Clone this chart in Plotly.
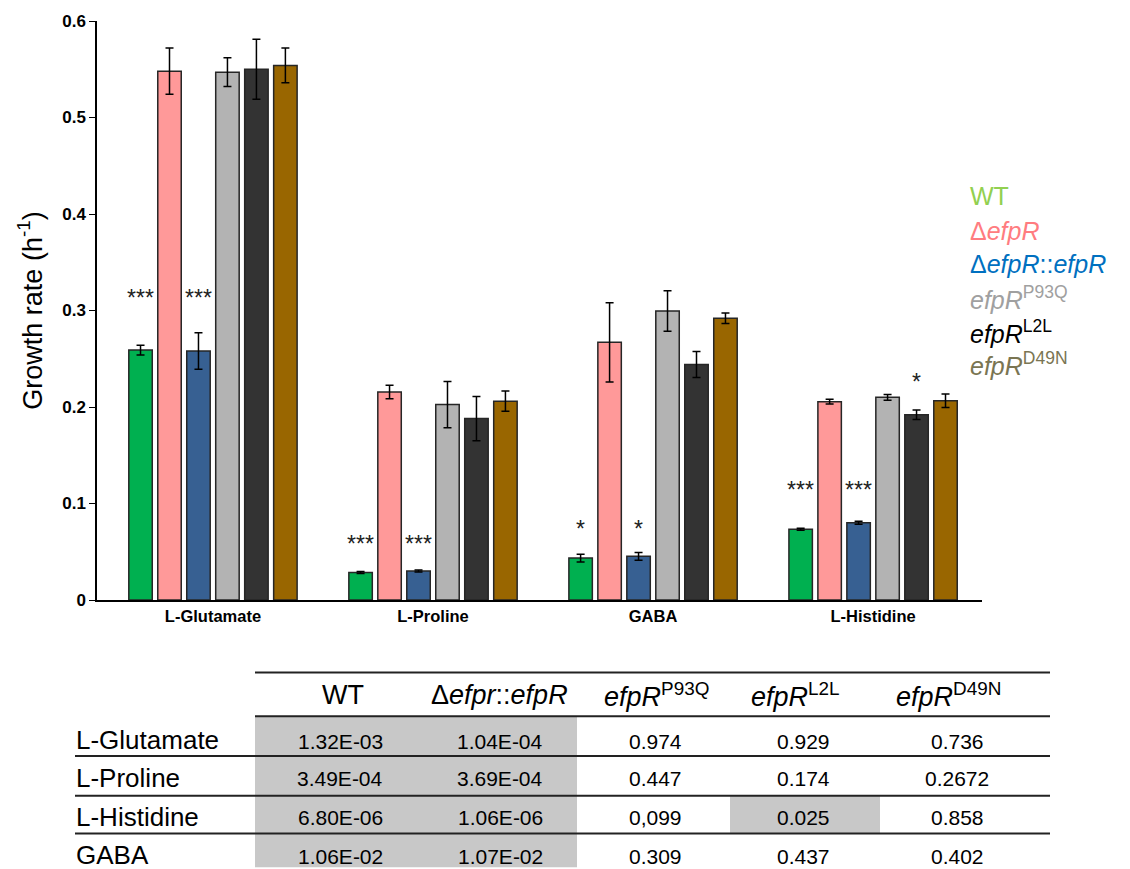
import plotly.graph_objects as go

# ---------------- data ----------------
substrates = ["L-Glutamate", "L-Proline", "GABA", "L-Histidine"]

strains = ["WT", "dEfpR", "dEfpR::efpR", "efpR_P93Q", "efpR_L2L", "efpR_D49N"]

wt_rate = [0.259, 0.0285, 0.0435, 0.0734]
wt_err = [0.005, 0.001, 0.004, 0.001]
del_rate = [0.548, 0.2155, 0.267, 0.2055]
del_err = [0.024, 0.007, 0.041, 0.0025]
comp_rate = [0.258, 0.030, 0.0453, 0.080]
comp_err = [0.019, 0.001, 0.004, 0.0015]
p93q_rate = [0.547, 0.2025, 0.2995, 0.210]
p93q_err = [0.015, 0.024, 0.021, 0.003]
l2l_rate = [0.550, 0.188, 0.244, 0.192]
l2l_err = [0.031, 0.023, 0.0135, 0.005]
d49n_rate = [0.554, 0.206, 0.292, 0.2065]
d49n_err = [0.018, 0.0105, 0.0055, 0.007]

wt_sig = ["***", "***", "*", "***"]
comp_sig = ["***", "***", "*", "***"]
l2l_sig = ["", "", "", "*"]

legend_labels = [
    "WT",
    "Δ<i>efpR</i>",
    "Δ<i>efpR</i>::<i>efpR</i>",
    "<i>efpR</i><sup>P93Q</sup>",
    "<i>efpR</i><sup>L2L</sup>",
    "<i>efpR</i><sup>D49N</sup>",
]

# p-value table
table_header = [
    "WT",
    "Δ<i>efpr</i>::<i>efpR</i>",
    "<i>efpR</i><sup>P93Q</sup>",
    "<i>efpR</i><sup>L2L</sup>",
    "<i>efpR</i><sup>D49N</sup>",
]
table_rows = ["L-Glutamate", "L-Proline", "L-Histidine", "GABA"]
table_values = [
    ["1.32E-03", "1.04E-04", "0.974", "0.929", "0.736"],
    ["3.49E-04", "3.69E-04", "0.447", "0.174", "0.2672"],
    ["6.80E-06", "1.06E-06", "0,099", "0.025", "0.858"],
    ["1.06E-02", "1.07E-02", "0.309", "0.437", "0.402"],
]
table_shaded = [
    [True, True, False, False, False],
    [True, True, False, False, False],
    [True, True, False, True, False],
    [True, True, False, False, False],
]

# ---------------- styling ----------------
bar_colors = ["#00b050", "#ff9999", "#376092", "#b3b3b3", "#333333", "#996600"]
legend_colors = ["#92d050", "#ff7c80", "#0070c0", "#a0a0a0", "#000000", "#7a7552"]
FONT = "Liberation Sans, Arial, sans-serif"

W, H = 1130, 869
L, R, T, B = 97, 982, 17, 600  # plot area in pixels
BARGAP, GROUPGAP = 0.21, 0.19


def px(x, y):
    """pixel position -> paper coordinates"""
    return (x - L) / (R - L), (B - y) / (B - T)


rates = [wt_rate, del_rate, comp_rate, p93q_rate, l2l_rate, d49n_rate]
errs = [wt_err, del_err, comp_err, p93q_err, l2l_err, d49n_err]

fig = go.Figure()
for name, r, e, c in zip(strains, rates, errs, bar_colors):
    fig.add_trace(go.Bar(
        x=substrates, y=r, name=name, showlegend=False,
        marker=dict(color=c, line=dict(color="#262626", width=1.5)),
        error_y=dict(type="data", array=e, color="black", thickness=1.5, width=4),
    ))

# significance stars over WT, complemented and L2L bars
n = len(strains)
slot = (1 - BARGAP) / n
star_pad = [0.036, 0.027, 0.024, 0.032]
annotations = []
for trace_idx, sig in [(0, wt_sig), (2, comp_sig), (4, l2l_sig)]:
    off = (trace_idx - (n - 1) / 2) * slot
    for gi, s in enumerate(sig):
        if not s:
            continue
        if trace_idx in (0, 2):
            top = max(wt_rate[gi] + wt_err[gi], comp_rate[gi] + comp_err[gi])
            y = top + star_pad[gi]
        else:
            y = rates[trace_idx][gi] + errs[trace_idx][gi] + 0.029
        annotations.append(dict(
            x=gi + off, y=y, xref="x", yref="y", text=s, showarrow=False,
            font=dict(family=FONT, size=23, color="#222"), yanchor="middle",
        ))

# legend as coloured text
leg_y = [193, 228, 262, 296, 330, 362]
for lab, col, ly in zip(legend_labels, legend_colors, leg_y):
    xp, yp = px(968, ly)
    annotations.append(dict(
        x=xp, y=yp, xref="paper", yref="paper", text=lab, showarrow=False,
        xanchor="left", yanchor="middle", font=dict(family=FONT, size=25, color=col),
    ))

# ---------------- p-value table ----------------
shapes = []
col_bounds = [255, 420, 577, 730, 880, 1050]
col_text_x = [340, 500, 655, 803, 957]
head_x = [343, 499, 656, 795, 948]
row_bounds = [717, 757, 797, 835, 869]
row_y = [741, 779, 818, 857]
head_y = 696

for ri in range(len(table_rows)):
    for ci in range(len(table_header)):
        if table_shaded[ri][ci]:
            x0, y0 = px(col_bounds[ci], row_bounds[ri])
            x1, y1 = px(col_bounds[ci + 1], row_bounds[ri + 1])
            shapes.append(dict(type="rect", xref="paper", yref="paper",
                               x0=x0, x1=x1, y0=y0, y1=y1,
                               fillcolor="#c8c8c8", line=dict(width=0), layer="below"))

# rules
for (xa, ya, xb) in [(255, 673, 1050), (255, 717, 1050), (75, 757, 1050),
                     (75, 797, 1050), (75, 835, 1050)]:
    x0, y0 = px(xa, ya)
    x1, _ = px(xb, ya)
    shapes.append(dict(type="line", xref="paper", yref="paper", x0=x0, x1=x1,
                       y0=y0, y1=y0, line=dict(color="#222", width=2)))

for h, hx in zip(table_header, head_x):
    xp, yp = px(hx, head_y)
    annotations.append(dict(x=xp, y=yp, xref="paper", yref="paper", text=h,
                            showarrow=False, xanchor="center", yanchor="middle",
                            font=dict(family=FONT, size=27, color="black")))

for ri, (rname, ry) in enumerate(zip(table_rows, row_y)):
    xp, yp = px(74, ry)
    annotations.append(dict(x=xp, y=yp, xref="paper", yref="paper", text=rname,
                            showarrow=False, xanchor="left", yanchor="middle",
                            font=dict(family=FONT, size=26, color="black")))
    for ci, v in enumerate(table_values[ri]):
        xp, yp = px(col_text_x[ci], ry + 1)
        annotations.append(dict(x=xp, y=yp, xref="paper", yref="paper", text=v,
                                showarrow=False, xanchor="center", yanchor="middle",
                                font=dict(family=FONT, size=21, color="black")))

fig.update_layout(
    width=W, height=H,
    margin=dict(l=L, r=W - R, t=T, b=H - B, pad=0),
    paper_bgcolor="white", plot_bgcolor="white",
    barmode="group", bargap=BARGAP, bargroupgap=GROUPGAP,
    font=dict(family=FONT, color="black"),
    annotations=annotations, shapes=shapes,
    xaxis=dict(
        type="category", range=[-0.527, 3.495],
        showline=True, linecolor="black", linewidth=1.5,
        ticks="", showgrid=False, zeroline=False,
        tickfont=dict(family=FONT, size=16.5, color="black", weight="bold"),
    ),
    yaxis=dict(
        range=[0, 0.6], dtick=0.1, tickformat="~g",
        showline=True, linecolor="black", linewidth=1.5,
        ticks="outside", ticklen=6, tickcolor="black", tickwidth=1.2,
        showgrid=False, zeroline=False,
        tickfont=dict(family=FONT, size=17, color="black", weight="bold"),
        title=dict(text="Growth rate (h<sup>-1</sup>)", standoff=12,
                   font=dict(family=FONT, size=27, color="black")),
    ),
)

fig.write_html("out.html")
